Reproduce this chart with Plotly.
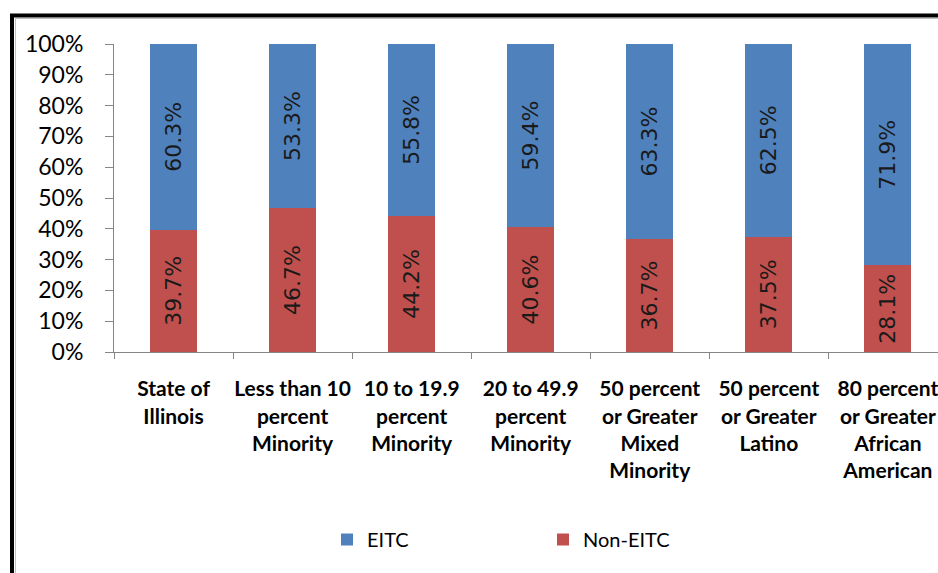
import plotly.graph_objects as go

categories = [
    "State of<br>Illinois",
    "Less than 10<br>percent<br>Minority",
    "10 to 19.9<br>percent<br>Minority",
    "20 to 49.9<br>percent<br>Minority",
    "50 percent<br>or Greater<br>Mixed<br>Minority",
    "50 percent<br>or Greater<br>Latino",
    "80 percent<br>or Greater<br>African<br>American",
]
non_eitc = [39.7, 46.7, 44.2, 40.6, 36.7, 37.5, 28.1]
eitc = [60.3, 53.3, 55.8, 59.4, 63.3, 62.5, 71.9]

W, H = 938, 573
L, R, T, B = 114, 0, 44, 221
pw, ph = W - L - R, H - T - B

def px_x(x):
    return (x - L) / pw

def px_y(y):
    return (H - B - y) / ph

label_font = dict(family="DejaVu Sans", size=22, color="#1a1a1a")

fig = go.Figure()
fig.add_trace(go.Bar(
    x=categories, y=non_eitc, name="Non-EITC",
    marker=dict(color="#C0504D", line=dict(width=0)),
    width=0.395,
    texttemplate="%{y:.1f}%", textposition="inside", textangle=-90,
    insidetextanchor="middle", insidetextfont=label_font,
    constraintext="none",
))
fig.add_trace(go.Bar(
    x=categories, y=eitc, name="EITC",
    marker=dict(color="#4F81BD", line=dict(width=0)),
    width=0.395,
    texttemplate="%{y:.1f}%", textposition="inside", textangle=-90,
    insidetextanchor="middle", insidetextfont=label_font,
    constraintext="none",
))

fig.update_layout(
    width=W, height=H,
    margin=dict(l=L, r=R, t=T, b=B, pad=0),
    barmode="stack",
    paper_bgcolor="white", plot_bgcolor="white",
    showlegend=True,
    legend=dict(
        orientation="h", traceorder="reversed",
        x=px_x(543), xanchor="center", y=px_y(539.5), yanchor="middle",
        font=dict(family="Lato", size=20, color="#000000"),
        entrywidth=171, entrywidthmode="pixels",
        bgcolor="rgba(0,0,0,0)",
    ),
    shapes=[
        dict(type="rect", xref="paper", yref="paper",
             x0=px_x(12), x1=px_x(1000), y0=px_y(650), y1=px_y(15.5),
             line=dict(color="black", width=4), fillcolor="rgba(0,0,0,0)", layer="above"),
        dict(type="rect", xref="paper", yref="paper",
             x0=px_x(15.5), x1=px_x(1000), y0=px_y(650), y1=px_y(18.5),
             line=dict(color="#bfbfbf", width=1), fillcolor="rgba(0,0,0,0)", layer="above"),
    ],
)
fig.update_xaxes(
    type="category", range=[-0.5, 6.421], automargin=False,
    showline=True, linecolor="#868686", linewidth=1,
    ticks="outside", tickcolor="#868686", ticklen=6, tickson="boundaries",
    showgrid=False, zeroline=False, tickangle=0,
    tickfont=dict(family="Lato", size=21, color="#000000", weight="bold"),
    ticklabelstandoff=18,
)
fig.update_yaxes(
    range=[0, 100], dtick=10, ticksuffix="%", automargin=False,
    showline=True, linecolor="#868686", linewidth=1,
    ticks="outside", tickcolor="#868686", ticklen=8,
    showgrid=False, zeroline=False,
    tickfont=dict(family="Lato", size=23, color="#000000"),
    ticklabelstandoff=17,
)

fig.write_html("out.html")
